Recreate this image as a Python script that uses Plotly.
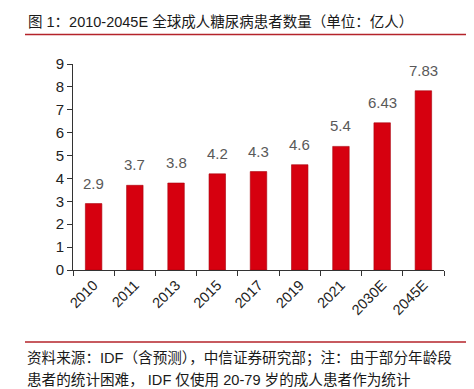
import plotly.graph_objects as go

categories = ["2010", "2011", "2013", "2015", "2017", "2019", "2021", "2030E", "2045E"]
values = [2.9, 3.7, 3.8, 4.2, 4.3, 4.6, 5.4, 6.43, 7.83]
labels = ["2.9", "3.7", "3.8", "4.2", "4.3", "4.6", "5.4", "6.43", "7.83"]
y_ticks = [0, 1, 2, 3, 4, 5, 6, 7, 8, 9]

title = "图 1：2010-2045E 全球成人糖尿病患者数量（单位：亿人）"
note1 = "资料来源：IDF（含预测），中信证券研究部；注：由于部分年龄段"
note2 = "患者的统计困难， IDF 仅使用 20-79 岁的成人患者作为统计"

W, H = 474, 389
L, R = 65, 436
T, B = 56, 262

def px(x):
    return (x - L) / (R - L)

def py(y):
    return (B - y) / (B - T)

FONT = "Liberation Sans, Noto Sans CJK SC, Arial, sans-serif"

fig = go.Figure()
fig.add_trace(go.Bar(
    x=categories, y=values,
    marker=dict(color="#D6000F", line=dict(color="#A8000C", width=0.6)),
    width=0.4,
))

# category axis positions are indices 0..n-1
label_anns = [
    dict(x=i, y=v, text=t, xref="x", yref="y", showarrow=False,
         yanchor="bottom", yshift=10,
         font=dict(size=15, color="#595959", family=FONT))
    for i, (v, t) in enumerate(zip(values, labels))
]

fig.update_layout(
    width=W, height=H,
    margin=dict(l=L, r=W - R, t=T, b=H - B),
    paper_bgcolor="white", plot_bgcolor="white",
    showlegend=False,
    font=dict(family=FONT, color="#222"),
    xaxis=dict(
        type="category", tickangle=-45, tickson="boundaries",
        ticks="outside", ticklen=5, tickcolor="#333",
        showline=True, linecolor="#333", linewidth=1,
        tickfont=dict(size=14.5, color="#222"), showgrid=False,
        categoryorder="array", categoryarray=categories,
    ),
    yaxis=dict(
        range=[0, 9], tickvals=y_ticks, ticks="outside", ticklen=5,
        tickcolor="#333", showline=True, linecolor="#333", linewidth=1,
        tickfont=dict(size=15, color="#222"), showgrid=False, zeroline=False,
    ),
    shapes=[
        dict(type="line", xref="paper", yref="paper", x0=px(17), x1=px(464),
             y0=py(26.5), y1=py(26.5), line=dict(color="#B4232A", width=1.5)),
        dict(type="line", xref="paper", yref="paper", x0=px(17), x1=px(464),
             y0=py(334), y1=py(334), line=dict(color="#B4232A", width=1.5)),
    ],
    annotations=label_anns + [
        dict(text=title, xref="paper", yref="paper", x=px(18), y=py(13),
             xanchor="left", yanchor="middle", showarrow=False,
             font=dict(size=14.5, color="#1a1a1a", family=FONT)),
        dict(text=note1, xref="paper", yref="paper", x=px(17), y=py(350),
             xanchor="left", yanchor="middle", showarrow=False,
             font=dict(size=14.6, color="#1a1a1a", family=FONT)),
        dict(text=note2, xref="paper", yref="paper", x=px(17), y=py(372),
             xanchor="left", yanchor="middle", showarrow=False,
             font=dict(size=14.6, color="#1a1a1a", family=FONT)),
    ],
)

fig.write_html("out.html")
